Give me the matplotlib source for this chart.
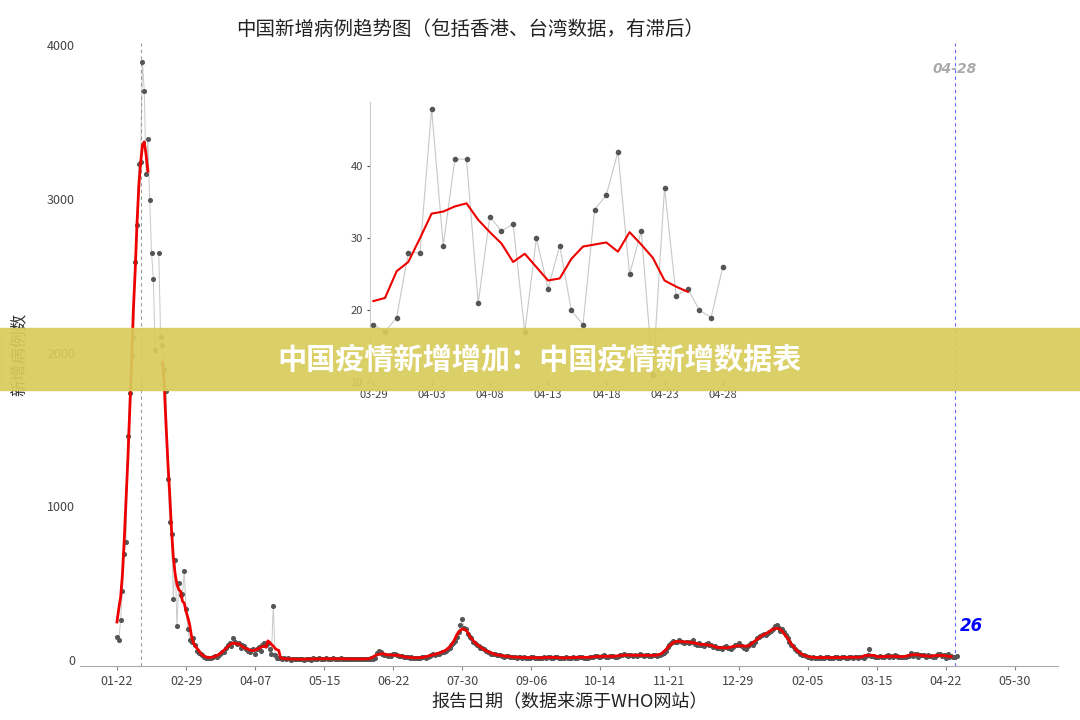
import matplotlib
matplotlib.use("Agg")
import matplotlib.pyplot as plt
import numpy as np
import pandas as pd

plt.rcParams['font.family'] = ['Noto Sans CJK SC', 'DejaVu Sans']

# daily new cases (WHO), month by month
jan20 = [150, 130, 260, 450, 690, 770, 1460, 1740, 1980, 2100]
feb20 = [2590, 2830, 3230, 3240, 3890, 3700, 3160, 3390, 2990, 2650, 2480, 2020, np.nan, 2650,
         2100, 2050, 1890, 1750, 1180, 900, 820, 400, 650, 220, 500, 420, 430, 580, 330]
mar20 = [200, 130, 120, 140, 100, 60, 45, 40, 30, 20, 15, 12, 10, 15, 20, 25, 20, 35, 45, 50,
         55, 75, 95, 110, 90, 140, 120, 105, 110, 80, 95]
apr20 = [90, 70, 60, 55, 65, 70, 40, 70, 85, 60, 95, 110, 95, 110, 70, 40, 352, 30, 15, 12,
         10, 8, 10, 6, 12, 5, 3, 8, 4, 6]
may20 = [5, 6, 4, 3, 8, 5, 9, 3, 10, 4, 8, 11, 7, 5, 9, 12, 8, 5, 6, 14, 4, 6, 8, 11, 5, 9,
         7, 4, 6, 8, 5]
jun20 = [7, 5, 6, 4, 8, 9, 5, 7, 6, 11, 9, 15, 44, 60, 52, 40, 35, 32, 28, 30, 28, 40, 42, 30,
         28, 25, 24, 20, 18, 17]
jul20 = [15, 18, 12, 14, 16, 10, 14, 18, 22, 16, 20, 28, 35, 38, 35, 40, 42, 48, 50, 55, 60,
         72, 80, 95, 110, 125, 150, 185, 230, 265, 205]
aug20 = [200, 170, 150, 140, 120, 110, 100, 90, 80, 75, 70, 60, 55, 45, 40, 40, 38, 35, 30, 30,
         25, 22, 28, 24, 20, 18, 22, 17, 15, 18, 20]
sep20 = [16, 18, 14, 12, 15, 20, 18, 14, 16, 12, 10, 15, 18, 14, 20, 22, 16, 14, 18, 20, 14,
         12, 10, 15, 18, 12, 14, 16, 20, 15]
oct20 = [15, 18, 20, 22, 16, 14, 12, 20, 18, 22, 25, 24, 20, 18, 26, 30, 22, 20, 24, 25, 28,
         22, 20, 26, 30, 34, 38, 30, 28, 32, 34]
nov20 = [28, 30, 26, 32, 36, 30, 28, 34, 30, 26, 28, 32, 30, 28, 34, 32, 38, 45, 60, 85, 100,
         110, 125, 120, 115, 130, 125, 120, 110, 118]
dec20 = [115, 110, 120, 130, 105, 100, 110, 95, 100, 90, 105, 110, 100, 95, 85, 90, 80, 75, 80,
         70, 85, 90, 80, 75, 70, 85, 95, 100, 110, 95, 90]
jan21 = [80, 70, 90, 100, 110, 95, 120, 140, 150, 155, 160, 170, 165, 175, 180, 190, 200, 220,
         230, 210, 190, 200, 180, 160, 140, 120, 100, 90, 70, 60, 50]
feb21 = [40, 35, 30, 25, 20, 18, 15, 22, 16, 14, 12, 18, 15, 12, 20, 18, 14, 16, 12, 20, 18,
         15, 12, 22, 18, 16, 14, 20]
mar21 = [20, 15, 18, 22, 12, 20, 18, 16, 25, 30, 70, 28, 24, 20, 18, 22, 24, 18, 20, 26, 30,
         22, 24, 18, 30, 25, 22, 20, 18, 17, 19]
apr21 = [28, 28, 48, 29, 41, 41, 21, 33, 31, 32, 17, 30, 23, 29, 20, 18, 34, 36, 42, 25, 31,
         11, 37, 22, 23, 20, 19, 26]

months = [jan20, feb20, mar20, apr20, may20, jun20, jul20, aug20, sep20, oct20, nov20, dec20,
          jan21, feb21, mar21, apr21]
starts = ['2020-01-22'] + [f'{y}-{m:02d}-01' for y, m in
          [(2020, m) for m in range(2, 13)] + [(2021, m) for m in range(1, 5)]]
dates = []
for s, vals in zip(starts, months):
    dates += list(pd.date_range(s, periods=len(vals)))
cases = pd.Series(np.concatenate(months).astype(float), index=pd.DatetimeIndex(dates))

smooth = cases.rolling(7, center=True, min_periods=1).mean()
smooth['2020-02-09':'2020-02-15'] = np.nan
smooth.iloc[-3:] = np.nan

grey, dotc, red = '#c8c8c8', '#555555', '#ee0000'

fig = plt.figure(figsize=(10.8, 7.2), dpi=100)
ax = fig.add_axes([0.074, 0.075, 0.906, 0.865])
ax.plot(cases.index, cases.values, color=grey, lw=0.7)
ax.scatter(cases.index, cases.values, s=7, color=dotc, zorder=3)
ax.plot(smooth.index, smooth.values, color=red, lw=2, zorder=4)
ax.axvline(pd.Timestamp('2020-02-04'), color='#999999', lw=0.8, ls=(0, (3, 3)))
ax.axvline(pd.Timestamp('2021-04-27'), color='#6666ff', lw=0.8, ls=(0, (3, 3)))
ax.text(pd.Timestamp('2021-04-27'), 3820, '04-28', color='#aaaaaa', fontsize=10,
        fontweight='bold', style='italic', ha='center', family='DejaVu Sans')
ax.text(pd.Timestamp('2021-04-30'), 190, '26', color='blue', fontsize=12,
        fontweight='bold', style='italic', ha='left', family='DejaVu Sans')

t0 = pd.Timestamp('2020-01-22')
ticks = [t0 + pd.Timedelta(days=38 * i) for i in range(14)]
ax.set_xticks(ticks)
ax.set_xticklabels([t.strftime('%m-%d') for t in ticks], fontsize=9, color='#444444')
ax.set_xlim(t0 - pd.Timedelta(days=20.4), t0 + pd.Timedelta(days=518))
ax.set_ylim(-39, 4013)
ax.set_yticks([0, 1000, 2000, 3000, 4000])
ax.tick_params(axis='y', labelsize=9, colors='#444444', length=0)
ax.tick_params(axis='x', length=3, color='#888888')
for sp in ['top', 'right', 'left']:
    ax.spines[sp].set_visible(False)
ax.spines['bottom'].set_color('#aaaaaa')
ax.set_ylabel('新增病例数', fontsize=12, color='#333333', labelpad=14)
ax.set_xlabel('报告日期（数据来源于WHO网站）', fontsize=13, color='#222222')
fig.text(0.435, 0.952, '中国新增病例趋势图（包括香港、台湾数据，有滞后）', ha='center',
         fontsize=14, color='#222222')

# inset: last month
last = cases['2021-03-29':]
last_s = smooth['2021-03-29':]
ins = fig.add_axes([0.343, 0.469, 0.337, 0.39])
ins.plot(last.index, last.values, color=grey, lw=0.8)
ins.scatter(last.index, last.values, s=9, color=dotc, zorder=3)
ins.plot(last_s.index, last_s.values, color=red, lw=1.5, zorder=4)
ins.set_ylim(10, 49)
ins.set_yticks([10, 20, 30, 40])
itick = list(pd.date_range('2021-03-29', '2021-04-28', freq='5D'))
ins.set_xticks(itick)
ins.set_xticklabels([t.strftime('%m-%d') for t in itick], fontsize=8, color='#444444')
ins.set_xlim(pd.Timestamp('2021-03-28 18:00'), pd.Timestamp('2021-04-29'))
ins.tick_params(labelsize=8, colors='#444444', length=2)
for sp in ['top', 'right', 'bottom']:
    ins.spines[sp].set_visible(False)
ins.spines['left'].set_color('#cccccc')
ins.patch.set_alpha(0)

# banner
fig.patches.append(plt.Rectangle((0, 0.458), 1, 0.086, transform=fig.transFigure,
                                 color='#d8cc5a', alpha=0.92, zorder=10))
fig.text(0.5, 0.5, '中国疫情新增增加：中国疫情新增数据表', ha='center', va='center',
         fontsize=21, fontweight='bold', color='white', zorder=11)

fig.savefig('out.png', dpi=100)
